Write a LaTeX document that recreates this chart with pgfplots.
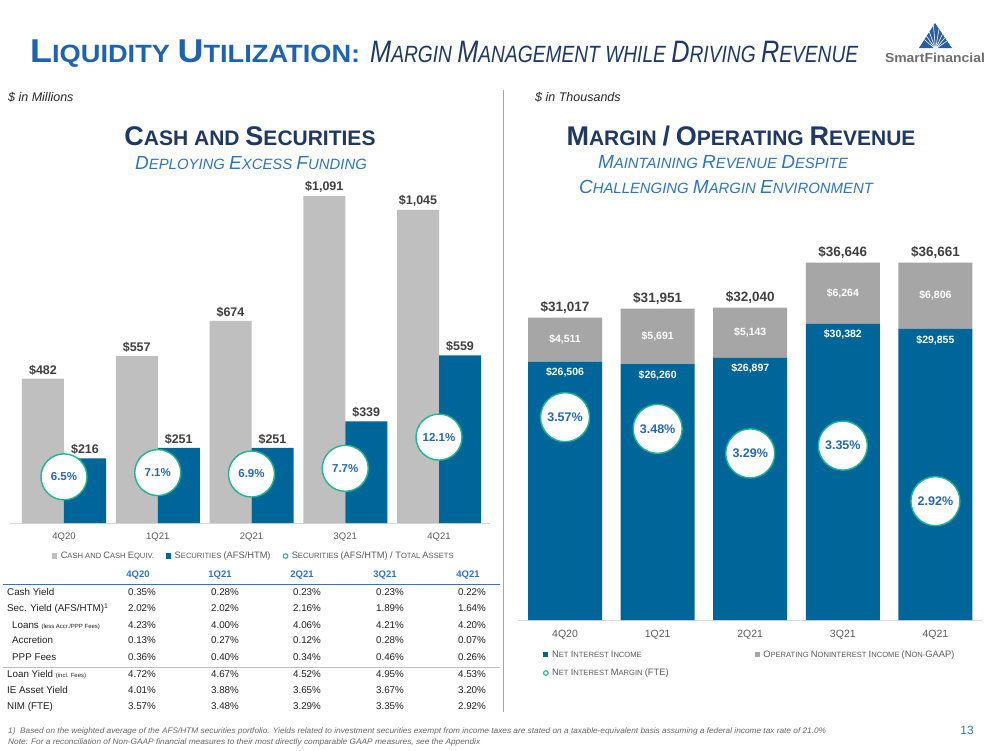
\documentclass[border=0pt]{standalone}
\usepackage{fontspec}
\setmainfont{Liberation Sans}
\usepackage{pgfplots}
\pgfplotsset{compat=1.18}
\usepackage{pgfplotstable}
\usepackage{graphicx}
\definecolor{titleblue}{HTML}{1F63B0}
\definecolor{navy}{HTML}{1F3864}
\definecolor{subblue}{HTML}{2E75C0}
\definecolor{barblue}{HTML}{00669A}
\definecolor{cashgray}{HTML}{BFBFBF}
\definecolor{nonigray}{HTML}{A6A6A6}
\definecolor{tealc}{HTML}{1DB68F}
\definecolor{circtext}{HTML}{2468B4}
\definecolor{labgray}{HTML}{404040}
\definecolor{tickgray}{HTML}{595959}
\definecolor{linegray}{HTML}{D9D9D9}
\definecolor{logoblue}{HTML}{2A5DA8}
\definecolor{logogray}{HTML}{6E6E6E}
\pgfplotsset{/pgf/number format/assume math mode=true}
\pgfplotsset{halfshift/.code={\pgfkeys{/pgf/fpu=true,/pgf/fpu/output format=fixed}\pgfmathsetmacro\gv{\pgfplotspointmeta*0.0048744}\pgfkeys{/pgf/fpu=false}}}
\newcommand\fs[2]{{\fontsize{#1}{#1}\selectfont #2}}

\pgfplotstableread{
x cash sec pct
0 482 216 6.5
1 557 251 7.1
2 674 251 6.9
3 1091 339 7.7
4 1045 559 12.1
}\leftdata

\pgfplotstableread{
x nii noni total nim
0 26506 4511 31017 3.57
1 26260 5691 31951 3.48
2 26897 5143 32040 3.29
3 30382 6264 36646 3.35
4 29855 6806 36661 2.92
}\rightdata

\newcommand\trow[8]{%
\node[tabt, anchor=mid west] at (#2,-#1) {#3};
\node[tabt] at (142,-#1) {#4};
\node[tabt] at (225,-#1) {#5};
\node[tabt] at (307,-#1) {#6};
\node[tabt] at (390,-#1) {#7};
\node[tabt] at (472,-#1) {#8};}

\begin{document}
\begin{tikzpicture}
\begin{scope}[x=1pt,y=1pt]
\path[use as bounding box, fill=white] (0,0) rectangle (999,-750);

% Title
\node[anchor=base west, inner sep=0, text=titleblue] at (30,-62)
 {\resizebox{330pt}{\height}{\bfseries\fontsize{25}{30}\selectfont\fs{33}{L}\fs{25}{IQUIDITY} \fs{33}{U}\fs{25}{TILIZATION:}}};
\node[anchor=base west, inner sep=0, text=navy] at (370,-62)
 {\resizebox{488pt}{\height}{\itshape\fontsize{23.5}{28}\selectfont\fs{31}{M}\fs{23.5}{ARGIN} \fs{31}{M}\fs{23.5}{ANAGEMENT} \fs{23.5}{WHILE} \fs{31}{D}\fs{23.5}{RIVING} \fs{31}{R}\fs{23.5}{EVENUE}}};

% Logo
\begin{scope}
\clip (935,-23) -- (919,-48) -- (952,-48) -- cycle;
\fill[logoblue] (935,-23) -- (919,-48) -- (952,-48) -- cycle;
\foreach \a in {35,50,...,145} \draw[white, line width=0.6pt] (935.5,-49) -- ++(\a:30);
\end{scope}
\node[anchor=base, inner sep=0, text=logogray] at (935,-62)
 {\resizebox{100pt}{\height}{\bfseries\fontsize{13}{14}\selectfont SmartFinancial}};

% units
\node[anchor=mid west, inner sep=0, text=black!85] at (8,-99) {\fontsize{12.5}{14}\selectfont\itshape \$ in Millions};
\node[anchor=mid west, inner sep=0, text=black!85] at (535,-99) {\fontsize{12.5}{14}\selectfont\itshape \$ in Thousands};

% divider
\draw[black!35, line width=0.8pt] (503,-90) -- (503,-712);

% Headings
\node[anchor=base, inner sep=0, text=navy] at (250,-145)
 {\bfseries\fontsize{21}{24}\selectfont\fs{27}{C}\fs{21}{ASH AND} \fs{27}{S}\fs{21}{ECURITIES}};
\node[anchor=base, inner sep=0, text=subblue] at (251,-169)
 {\itshape\fontsize{14.9}{17}\selectfont\fs{19}{D}\fs{14.9}{EPLOYING} \fs{19}{E}\fs{14.9}{XCESS} \fs{19}{F}\fs{14.9}{UNDING}};
\node[anchor=base, inner sep=0, text=navy] at (741,-145)
 {\bfseries\fontsize{21}{24}\selectfont\fs{27}{M}\fs{21}{ARGIN} \fs{27}{/} \fs{27}{O}\fs{21}{PERATING} \fs{27}{R}\fs{21}{EVENUE}};
\node[anchor=base, inner sep=0, text=subblue] at (723,-168)
 {\itshape\fontsize{14.9}{17}\selectfont\fs{19}{M}\fs{14.9}{AINTAINING} \fs{19}{R}\fs{14.9}{EVENUE} \fs{19}{D}\fs{14.9}{ESPITE}};
\node[anchor=base, inner sep=0, text=subblue] at (726,-193)
 {\itshape\fontsize{14.9}{17}\selectfont\fs{19}{C}\fs{14.9}{HALLENGING} \fs{19}{M}\fs{14.9}{ARGIN} \fs{19}{E}\fs{14.9}{NVIRONMENT}};

% Table
\tikzset{tabt/.style={inner sep=0, anchor=mid, font=\fontsize{9.8}{11}\selectfont, text=black!88},
         tabh/.style={inner sep=0, anchor=mid, font=\fontsize{9.5}{11}\selectfont\bfseries, text=subblue}}
\node[tabh] at (138,-575) {4Q20};
\node[tabh] at (220,-575) {1Q21};
\node[tabh] at (302,-575) {2Q21};
\node[tabh] at (385,-575) {3Q21};
\node[tabh] at (468,-575) {4Q21};
\draw[subblue, line width=1pt] (3,-584) -- (500,-584);
\trow{593}{7}{Cash Yield}{0.35\%}{0.28\%}{0.23\%}{0.23\%}{0.22\%}
\trow{609}{7}{Sec. Yield (AFS/HTM)\textsuperscript{1}}{2.02\%}{2.02\%}{2.16\%}{1.89\%}{1.64\%}
\trow{626}{12}{Loans {\fontsize{6}{7}\selectfont(less Accr./PPP Fees)}}{4.23\%}{4.00\%}{4.06\%}{4.21\%}{4.20\%}
\trow{641}{12}{Accretion}{0.13\%}{0.27\%}{0.12\%}{0.28\%}{0.07\%}
\trow{658}{12}{PPP Fees}{0.36\%}{0.40\%}{0.34\%}{0.46\%}{0.26\%}
\draw[black!25, line width=0.6pt] (3,-667) -- (500,-667);
\trow{675}{7}{Loan Yield {\fontsize{6}{7}\selectfont(incl. Fees)}}{4.72\%}{4.67\%}{4.52\%}{4.95\%}{4.53\%}
\trow{691}{7}{IE Asset Yield}{4.01\%}{3.88\%}{3.65\%}{3.67\%}{3.20\%}
\trow{707}{7}{NIM (FTE)}{3.57\%}{3.48\%}{3.29\%}{3.35\%}{2.92\%}

% footnotes
\node[anchor=mid west, inner sep=0, text=black!60] at (8,-731)
 {\resizebox{818pt}{\height}{\itshape\fontsize{8}{9}\selectfont 1)\ \ Based on the weighted average of the AFS/HTM securities portfolio. Yields related to investment securities exempt from income taxes are stated on a taxable-equivalent basis assuming a federal income tax rate of 21.0\%}};
\node[anchor=mid west, inner sep=0, text=black!60] at (8,-742)
 {\resizebox{472pt}{\height}{\itshape\fontsize{8}{9}\selectfont Note: For a reconciliation of Non-GAAP financial measures to their most directly comparable GAAP measures, see the Appendix}};
\node[inner sep=0, text=subblue] at (967,-730) {\fontsize{12}{14}\selectfont 13};
\end{scope}

% ---------------- Left chart ----------------
\begin{axis}[
  at={(10pt,-523pt)}, anchor=south west, scale only axis,
  width=480pt, height=327pt,
  xmin=-0.576, xmax=4.544, ymin=0, ymax=1091,
  ybar=0pt, bar width=42pt,
  axis x line*=bottom, axis y line=none,
  x axis line style={draw=linegray, line width=0.8pt, -},
  xtick={0,1,2,3,4}, xticklabels={4Q20,1Q21,2Q21,3Q21,4Q21},
  major tick length=0pt,
  xticklabel style={font=\fontsize{9.5}{11}\selectfont, text=tickgray, yshift=-6pt},
  clip=false,
  nodes near coords={\$\pgfmathprintnumber{\pgfplotspointmeta}},
  every node near coord/.append style={font=\fontsize{12.5}{14}\selectfont\bfseries, text=labgray},
  legend style={at={(0.508,-0.101)}, anchor=center, draw=none, fill=none,
    legend columns=3, font=\fontsize{7.6}{9}\selectfont, text=tickgray,
    /tikz/every even column/.append style={column sep=10pt},
    /tikz/every odd column/.append style={column sep=1.5pt}},
]
\addplot[fill=cashgray, draw=none,
  legend image code/.code={\fill[cashgray] (0pt,-2.6pt) rectangle (5.2pt,2.6pt);}]
  table[x=x,y=cash]{\leftdata};
\addlegendentry{\fs{9.3}{C}\fs{7.6}{ASH AND} \fs{9.3}{C}\fs{7.6}{ASH} \fs{9.3}{E}\fs{7.6}{QUIV.}}
\addplot[fill=barblue, draw=none,
  legend image code/.code={\fill[barblue] (0pt,-2.6pt) rectangle (5.2pt,2.6pt);}]
  table[x=x,y=sec]{\leftdata};
\addlegendentry{\fs{9.3}{S}\fs{7.6}{ECURITIES} \fs{9.3}{(AFS/HTM)}}
\addlegendimage{legend image code/.code={\draw[tealc, line width=1.1pt, fill=white] (2.6pt,0pt) circle (2.3pt);}}
\addlegendentry{\fs{9.3}{S}\fs{7.6}{ECURITIES} \fs{9.3}{(AFS/HTM) / T}\fs{7.6}{OTAL} \fs{9.3}{A}\fs{7.6}{SSETS}}
\end{axis}

\begin{axis}[
  at={(10pt,-523pt)}, anchor=south west, scale only axis,
  width=480pt, height=327pt,
  xmin=-0.576, xmax=4.544, ymin=0, ymax=46.06,
  hide axis, clip=false]
\addplot[draw=none, mark=none,
  nodes near coords={\pgfmathprintnumber[fixed,fixed zerofill,precision=1]{\pgfplotspointmeta}\%},
  every node near coord/.style={circle, draw=tealc, line width=1.4pt, fill=white,
    minimum size=46pt, inner sep=0pt, anchor=center, text=circtext,
    font=\fontsize{11.5}{13}\selectfont\bfseries}]
  table[x=x,y=pct]{\leftdata};
\end{axis}

% ---------------- Right chart ----------------
\begin{axis}[
  at={(518pt,-620pt)}, anchor=south west, scale only axis,
  width=464pt, height=357.4pt,
  xmin=-0.508, xmax=4.503, ymin=0, ymax=36661,
  ybar stacked, bar width=74pt,
  axis x line*=bottom, axis y line=none,
  x axis line style={draw=linegray, line width=0.8pt, -},
  xtick={0,1,2,3,4}, xticklabels={4Q20,1Q21,2Q21,3Q21,4Q21},
  major tick length=0pt,
  xticklabel style={font=\fontsize{10.5}{12}\selectfont, text=tickgray, yshift=-7pt},
  clip=false,
  legend style={at={(0.047,-0.074)}, anchor=north west, draw=none, fill=none,
    legend columns=2, font=\fontsize{7.6}{9}\selectfont, text=tickgray,
    /tikz/every even column/.append style={column sep=84pt},
    /tikz/every odd column/.append style={column sep=1.5pt},
    row sep=6pt},
  legend cell align=left,
]
\addplot[fill=barblue, draw=none, point meta=explicit,
  nodes near coords={\$\pgfmathprintnumber{\pgfplotspointmeta}},
  every node near coord/.append style={anchor=center, /pgfplots/halfshift, yshift={\gv pt-11pt}, text=white,
    font=\fontsize{10.5}{12}\selectfont\bfseries},
  legend image code/.code={\fill[barblue] (0pt,-2.6pt) rectangle (5.2pt,2.6pt);}]
  table[x=x,y=nii,meta=nii]{\rightdata};
\addlegendentry{\fs{9.3}{N}\fs{7.6}{ET} \fs{9.3}{I}\fs{7.6}{NTEREST} \fs{9.3}{I}\fs{7.6}{NCOME}}
\addplot[fill=nonigray, draw=none, point meta=explicit,
  nodes near coords={\$\pgfmathprintnumber{\pgfplotspointmeta}},
  every node near coord/.append style={anchor=center, text=white,
    font=\fontsize{10.5}{12}\selectfont\bfseries},
  legend image code/.code={\fill[nonigray] (0pt,-2.6pt) rectangle (5.2pt,2.6pt);}]
  table[x=x,y=noni,meta=noni]{\rightdata};
\addlegendentry{\fs{9.3}{O}\fs{7.6}{PERATING} \fs{9.3}{N}\fs{7.6}{ONINTEREST} \fs{9.3}{I}\fs{7.6}{NCOME} \fs{9.3}{(N}\fs{7.6}{ON-}\fs{9.3}{GAAP)}}
\addlegendimage{legend image code/.code={\draw[tealc, line width=1.1pt, fill=white] (2.6pt,0pt) circle (2.3pt);}}
\addlegendentry{\fs{9.3}{N}\fs{7.6}{ET} \fs{9.3}{I}\fs{7.6}{NTEREST} \fs{9.3}{M}\fs{7.6}{ARGIN} \fs{9.3}{(FTE)}}
\end{axis}

% totals above the stacks
\begin{axis}[
  at={(518pt,-620pt)}, anchor=south west, scale only axis,
  width=464pt, height=357.4pt,
  xmin=-0.508, xmax=4.503, ymin=0, ymax=36661,
  hide axis, clip=false]
\addplot[draw=none, mark=none,
  nodes near coords={\$\pgfmathprintnumber{\pgfplotspointmeta}},
  every node near coord/.style={anchor=south, inner sep=3.5pt, text=labgray,
    font=\fontsize{13.5}{15}\selectfont\bfseries}]
  table[x=x,y=total]{\rightdata};
\end{axis}

\begin{axis}[
  at={(518pt,-620pt)}, anchor=south west, scale only axis,
  width=464pt, height=357.4pt,
  xmin=-0.508, xmax=4.503, ymin=2.0, ymax=4.767,
  hide axis, clip=false]
\addplot[draw=none, mark=none,
  nodes near coords={\pgfmathprintnumber[fixed,fixed zerofill,precision=2]{\pgfplotspointmeta}\%},
  every node near coord/.style={circle, draw=tealc, line width=1.4pt, fill=white,
    minimum size=49pt, inner sep=0pt, anchor=center, text=circtext,
    font=\fontsize{12.5}{14}\selectfont\bfseries}]
  table[x=x,y=nim]{\rightdata};
\end{axis}
\end{tikzpicture}
\end{document}
